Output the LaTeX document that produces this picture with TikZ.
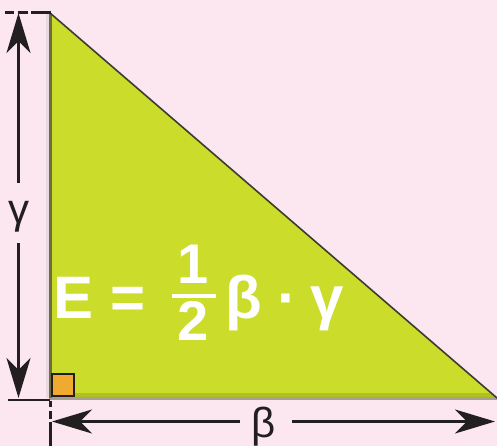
\documentclass[tikz,border=0pt]{standalone}
\usepackage{fontspec}
\setmainfont{Liberation Sans}
\usetikzlibrary{arrows.meta}
\definecolor{bgpink}{RGB}{252,231,240}
\definecolor{trigreen}{RGB}{203,220,42}
\definecolor{greendark}{RGB}{176,192,32}
\definecolor{edgegray}{RGB}{168,160,144}
\definecolor{edgeolive}{RGB}{110,110,60}
\definecolor{shadowpink}{RGB}{232,216,224}
\definecolor{hypline}{RGB}{60,60,50}
\definecolor{dimblack}{RGB}{35,31,32}
\definecolor{sqorange}{RGB}{240,170,48}
\tikzset{
  dimline/.style={line width=2.6pt, draw=dimblack},
  dimarrow/.style={dimline, -{Stealth[length=40pt,width=24pt,inset=12pt]}},
  extline/.style={line width=2.6pt, draw=dimblack},
  formula/.style={text=white, inner sep=0pt, anchor=base, font=\fontsize{60}{60}\bfseries},
  fracdigit/.style={text=white, inner sep=0pt, anchor=base, font=\fontsize{56}{56}\bfseries},
  dimlabel/.style={text=dimblack, inner sep=0pt, anchor=base, font=\fontsize{42}{42}\selectfont}
}
\begin{document}
\begin{tikzpicture}[x=1pt,y=-1pt]
\useasboundingbox (0,0) rectangle (497,446);
\fill[bgpink] (0,0) rectangle (497,446);
% triangle
\coordinate (A) at (50,13);
\coordinate (B) at (50,398);
\coordinate (C) at (497,398);
\fill[shadowpink] (45.5,13) rectangle (48.5,398);
\fill[trigreen] (A) -- (B) -- (C) -- cycle;
\begin{scope}
\clip (A) -- (B) -- (C) -- cycle;
\fill[greendark] (48,393) rectangle (497,396.5);
\end{scope}
\fill[edgegray] (48.5,396.5) rectangle (497,399.5);
\draw[line width=3pt, edgeolive] (A) -- (B);
\draw[line width=1.6pt, hypline] (A) -- (C);
% right-angle marker
\node (sq) [draw=dimblack, line width=2.5pt, fill=sqorange, minimum size=22pt, inner sep=0pt, anchor=south west] at (50.8,397.3) {};
% extension lines
\coordinate (t0) at (5,12.5);
\coordinate (t1) at (51,12.5);
\draw[extline, dash pattern=on 9pt off 3.5pt on 10pt off 3.5pt on 40pt] (t0) -- (t1);
\coordinate (b0) at (8,400);
\coordinate (b1) at (50,400);
\draw[extline] (b0) -- (b1);
\coordinate (v0) at (50.5,401);
\coordinate (v1) at (50.5,446);
\draw[extline, dash pattern=on 6pt off 4pt on 8pt off 3pt on 40pt] (v0) -- (v1);
% vertical dimension gamma
\coordinate (gtop) at (18.5,13);
\coordinate (gbot) at (18.5,398);
\coordinate (gg1) at (18.5,183);
\coordinate (gg2) at (18.5,243);
\draw[dimarrow] (gg1) -- (gtop);
\draw[dimarrow] (gg2) -- (gbot);
\node (glabel) [dimlabel] at (19,223) {γ};
% horizontal dimension beta
\coordinate (bl) at (52,421.5);
\coordinate (br) at (495,421.5);
\coordinate (bg1) at (240,421.5);
\coordinate (bg2) at (292,421.5);
\draw[dimarrow] (bg1) -- (bl);
\draw[dimarrow] (bg2) -- (br);
\node (blabel) [dimlabel] at (264,437) {β};
% formula
\node (fE) [formula, anchor=base west] at (53,318) {E};
\node (feq) [formula] at (128,318) {=};
\node (fone) [fracdigit] at (193,283) {1};
\draw[white, line width=3.2pt] (172,296) -- (216,296);
\node (ftwo) [fracdigit] at (193,340) {2};
\node (fbeta) [formula] at (244,318) {β};
\node (fdot) [formula] at (287,318) {·};
\node (fgamma) [formula] at (327,318) {γ};
\end{tikzpicture}
\end{document}
